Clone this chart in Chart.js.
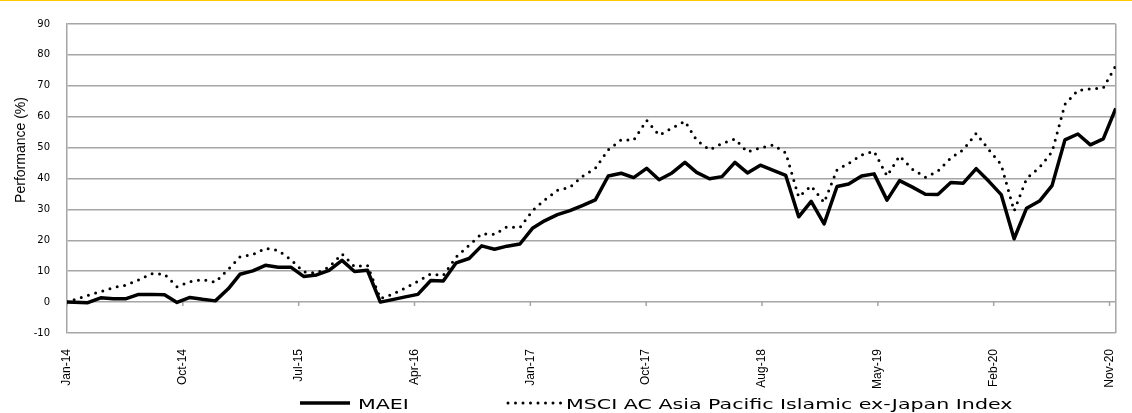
<!DOCTYPE html>
<html>
<head>
<meta charset="utf-8">
<script src="https://cdn.jsdelivr.net/npm/chart.js@4.4.1/dist/chart.umd.min.js"></script>
<style>
  html, body { margin: 0; padding: 0; background: #fff; }
  #wrap { width: 1132px; height: 412px; border-top: 1px solid #ffc800; }
</style>
</head>
<body>
<div id="wrap"><canvas id="perfChart" width="1132" height="412"></canvas></div>
<script>
// Base date of the performance series, then one observation per month end
const startDate = "2014-01-09";

const months = [
  "Jan-14", "Feb-14", "Mar-14", "Apr-14", "May-14", "Jun-14", "Jul-14", "Aug-14", "Sep-14", "Oct-14", "Nov-14", "Dec-14",
  "Jan-15", "Feb-15", "Mar-15", "Apr-15", "May-15", "Jun-15", "Jul-15", "Aug-15", "Sep-15", "Oct-15", "Nov-15", "Dec-15",
  "Jan-16", "Feb-16", "Mar-16", "Apr-16", "May-16", "Jun-16", "Jul-16", "Aug-16", "Sep-16", "Oct-16", "Nov-16", "Dec-16",
  "Jan-17", "Feb-17", "Mar-17", "Apr-17", "May-17", "Jun-17", "Jul-17", "Aug-17", "Sep-17", "Oct-17", "Nov-17", "Dec-17",
  "Jan-18", "Feb-18", "Mar-18", "Apr-18", "May-18", "Jun-18", "Jul-18", "Aug-18", "Sep-18", "Oct-18", "Nov-18", "Dec-18",
  "Jan-19", "Feb-19", "Mar-19", "Apr-19", "May-19", "Jun-19", "Jul-19", "Aug-19", "Sep-19", "Oct-19", "Nov-19", "Dec-19",
  "Jan-20", "Feb-20", "Mar-20", "Apr-20", "May-20", "Jun-20", "Jul-20", "Aug-20", "Sep-20", "Oct-20", "Nov-20"
];

// Performance (%)
const maeiValues = [
  0, -0.2, 1.4, 1.1, 1.1, 2.5, 2.5, 2.4, -0.1, 1.5, 0.9, 0.4,
  4.3, 9.0, 10.1, 11.9, 11.3, 11.3, 8.3, 8.8, 10.3, 13.5, 9.9, 10.3,
  0.0, 0.8, 1.7, 2.5, 7.0, 6.8, 12.7, 14.1, 18.2, 17.1, 18.1, 18.8,
  24.0, 26.3, 28.3, 29.6, 31.3, 33.1, 40.8, 41.7, 40.3, 43.3, 39.6, 41.8,
  45.2, 42.0, 39.9, 40.6, 45.2, 41.8, 44.3, 42.6, 41.0, 27.6, 32.6, 25.3,
  37.4, 38.2, 40.8, 41.5, 33.0, 39.3, 37.2, 34.9, 34.8, 38.7, 38.5, 43.2,
  39.0, 34.8, 20.5, 30.4, 32.7, 37.7, 52.5, 54.4, 50.9, 52.8, 62.7
];

const msciValues = [
  0, 2.2, 3.4, 4.7, 5.5, 7.2, 9.2, 9.0, 5.0, 6.6, 7.3, 6.4,
  10.6, 14.6, 15.4, 17.4, 16.7, 13.8, 9.8, 9.4, 11.3, 15.6, 11.5, 11.9,
  1.2, 2.5, 4.6, 6.7, 9.1, 8.6, 14.6, 18.4, 22.1, 21.9, 24.4, 24.1,
  29.7, 33.0, 36.2, 37.2, 40.8, 43.3, 49.3, 52.5, 52.4, 58.8, 54.0, 56.3,
  58.5, 52.4, 49.3, 51.3, 52.8, 48.6, 49.9, 50.9, 48.3, 34.0, 37.6, 32.2,
  42.8, 44.9, 47.6, 48.8, 40.8, 47.3, 43.0, 40.4, 42.4, 46.6, 49.3, 54.6,
  49.2, 44.5, 29.5, 40.0, 43.6, 48.6, 64.0, 68.5, 69.0, 69.3, 76.5
];

const seriesNames = ["MAEI", "MSCI AC Asia Pacific Islamic ex-Japan Index"];
const tickLabels = ["Jan-14", "Oct-14", "Jul-15", "Apr-16", "Jan-17", "Oct-17", "Aug-18", "May-19", "Feb-20", "Nov-20"];
const tickStepDays = 278;
const yTitle = "Performance (%)";

const GRID = "#a6a6a6";
const MONTH_NAMES = ["Jan", "Feb", "Mar", "Apr", "May", "Jun", "Jul", "Aug", "Sep", "Oct", "Nov", "Dec"];

// Day offset of each observation from the base date
const startMs = Date.parse(startDate);
const dayPositions = months.map((m, i) => {
  if (i === 0) return 0;
  const mon = MONTH_NAMES.indexOf(m.slice(0, 3));
  const year = 2000 + Number(m.slice(4));
  return Math.round((Date.UTC(year, mon + 1, 0) - startMs) / 86400000);
});

const toPoints = (values) => values.map((v, i) => ({ x: dayPositions[i], y: v }));

// Right frame line and the small tick marks hanging from the zero line
const frameAndTicks = {
  id: "frameAndTicks",
  beforeDatasetsDraw(chart) {
    const { ctx, chartArea: a, scales: { x, y } } = chart;
    const y0 = y.getPixelForValue(0);
    ctx.save();
    ctx.strokeStyle = GRID;
    ctx.lineWidth = 1.5;
    ctx.beginPath();
    ctx.moveTo(a.right, a.top);
    ctx.lineTo(a.right, a.bottom);
    x.ticks.forEach((t) => {
      const px = x.getPixelForValue(t.value);
      ctx.moveTo(px, y0);
      ctx.lineTo(px, y0 + 4);
    });
    ctx.stroke();
    ctx.restore();
  }
};

// Y axis title, sitting a bit above the middle of the axis
const axisTitle = {
  id: "axisTitle",
  afterDraw(chart) {
    const ctx = chart.ctx;
    ctx.save();
    ctx.translate(21, 149);
    ctx.rotate(-Math.PI / 2);
    ctx.font = '14px "Liberation Sans", Arial, sans-serif';
    ctx.textAlign = "center";
    ctx.textBaseline = "middle";
    ctx.fillStyle = "#000";
    ctx.fillText(yTitle, 0, 0);
    ctx.restore();
  }
};

// Legend under the chart, wide text like the original
const bottomLegend = {
  id: "bottomLegend",
  afterDraw(chart) {
    const ctx = chart.ctx;
    const slots = [
      { x1: 300, x2: 350, tx: 358 },
      { x1: 508, x2: 562, tx: 566 }
    ];
    const lineY = 402;
    chart.data.datasets.forEach((ds, i) => {
      const s = slots[i];
      ctx.save();
      ctx.strokeStyle = ds.borderColor;
      ctx.lineWidth = ds.borderWidth;
      ctx.lineCap = ds.borderCapStyle || "butt";
      ctx.setLineDash(ds.borderDash || []);
      ctx.beginPath();
      ctx.moveTo(s.x1, lineY);
      ctx.lineTo(s.x2, lineY);
      ctx.stroke();
      ctx.restore();

      ctx.save();
      ctx.translate(s.tx, 408);
      ctx.scale(1.47, 1);
      ctx.font = '14px "DejaVu Sans", Verdana, sans-serif';
      ctx.textBaseline = "alphabetic";
      ctx.fillStyle = "#000";
      ctx.fillText(ds.label, 0, 0);
      ctx.restore();
    });
  }
};

const ctx = document.getElementById("perfChart").getContext("2d");

new Chart(ctx, {
  type: "line",
  data: {
    datasets: [
      {
        label: seriesNames[0],
        data: toPoints(maeiValues),
        borderColor: "#000",
        borderWidth: 3.5,
        borderJoinStyle: "round",
        pointRadius: 0,
        tension: 0
      },
      {
        label: seriesNames[1],
        data: toPoints(msciValues),
        borderColor: "#000",
        borderWidth: 3,
        borderDash: [0, 7.5],
        borderCapStyle: "round",
        pointRadius: 0,
        tension: 0
      }
    ]
  },
  options: {
    responsive: false,
    animation: false,
    layout: { padding: { top: 12, right: 12, left: 0, bottom: 0 } },
    plugins: {
      legend: { display: false },
      tooltip: { enabled: false }
    },
    scales: {
      x: {
        type: "linear",
        min: 0,
        max: dayPositions[dayPositions.length - 1],
        afterBuildTicks: (scale) => {
          scale.ticks = tickLabels.map((_, k) => ({ value: k * tickStepDays }));
        },
        afterFit: (scale) => { scale.height = 80; },
        grid: { display: false },
        border: { display: false },
        ticks: {
          autoSkip: false,
          minRotation: 90,
          maxRotation: 90,
          padding: 8,
          color: "#000",
          font: { family: '"Liberation Sans", Arial, sans-serif', size: 12 },
          callback: (value, index) => tickLabels[index]
        }
      },
      y: {
        min: -10,
        max: 90,
        afterFit: (scale) => { scale.width = 67; },
        grid: { color: GRID, lineWidth: 1.5, drawTicks: false },
        border: { color: GRID, width: 1.5 },
        ticks: {
          stepSize: 10,
          padding: 17,
          color: "#000",
          font: { family: '"DejaVu Sans", Verdana, sans-serif', size: 10 }
        }
      }
    }
  },
  plugins: [frameAndTicks, axisTitle, bottomLegend]
});
</script>
</body>
</html>
